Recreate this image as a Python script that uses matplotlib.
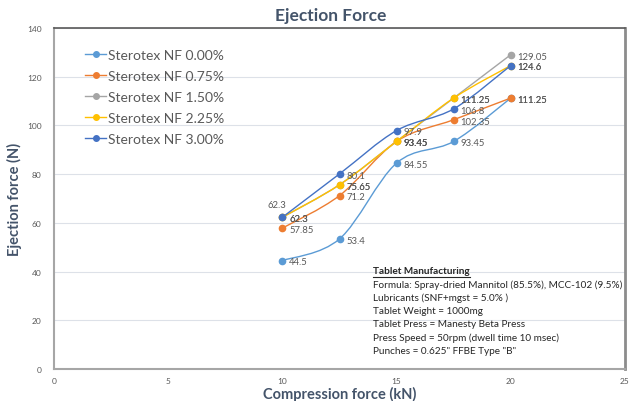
import numpy as np
import matplotlib
matplotlib.use("Agg")
import matplotlib.pyplot as plt
from matplotlib.path import Path
from matplotlib.patches import PathPatch
from matplotlib.lines import Line2D

plt.rcParams["font.family"] = ["Lato", "DejaVu Sans"]

# compression force (kN)
compression = [10, 12.5, 15, 17.5, 20]

series_names = [
    "Sterotex NF 0.00%",
    "Sterotex NF 0.75%",
    "Sterotex NF 1.50%",
    "Sterotex NF 2.25%",
    "Sterotex NF 3.00%",
]
nf_000 = [44.5, 53.4, 84.55, 93.45, 111.25]
nf_075 = [57.85, 71.2, 93.45, 102.35, 111.25]
nf_150 = [62.3, 75.65, 93.45, 111.25, 129.05]
nf_225 = [62.3, 75.65, 93.45, 111.25, 124.6]
nf_300 = [62.3, 80.1, 97.9, 106.8, 124.6]
series_values = [nf_000, nf_075, nf_150, nf_225, nf_300]
colors = ["#5B9BD5", "#ED7D31", "#A5A5A5", "#FFC000", "#4472C4"]

y_ticks = [0, 20, 40, 60, 80, 100, 120, 140]
x_ticks = [0, 5, 10, 15, 20, 25]

notes_title = "Tablet Manufacturing"
notes = [
    "Formula: Spray-dried Mannitol (85.5%), MCC-102 (9.5%)",
    "Lubricants (SNF+mgst = 5.0% )",
    "Tablet Weight = 1000mg",
    "Tablet Press = Manesty Beta Press",
    "Press Speed = 50rpm (dwell time 10 msec)",
    "Punches = 0.625\" FFBE Type \"B\"",
]

TXT = "#44546A"
LBL = "#595959"


def smooth_path(xs, ys):
    # excel-like smoothed line: cubic bezier through the points
    pts = np.column_stack([xs, ys]).astype(float)
    verts = [tuple(pts[0])]
    codes = [Path.MOVETO]
    n = len(pts)
    for i in range(n - 1):
        p0 = pts[i - 1] if i > 0 else pts[i]
        p1 = pts[i]
        p2 = pts[i + 1]
        p3 = pts[i + 2] if i + 2 < n else pts[i + 1]
        c1 = p1 + (p2 - p0) / 6.0
        c2 = p2 - (p3 - p1) / 6.0
        verts += [tuple(c1), tuple(c2), tuple(p2)]
        codes += [Path.CURVE4] * 3
    return Path(verts, codes)


fig = plt.figure(figsize=(6.4, 4.02), dpi=100)
ax = fig.add_axes([54 / 640, 32 / 402, 571 / 640, 341 / 402])

handles = []
for name, vals, col in zip(series_names, series_values, colors):
    ax.add_patch(PathPatch(smooth_path(compression, vals), facecolor="none",
                           edgecolor=col, lw=1.0, zorder=3))
    ax.plot(compression, vals, linestyle="none", marker="o", ms=4.5,
            color=col, zorder=4)
    handles.append(Line2D([], [], color=col, lw=1.0, marker="o", ms=4))

# data labels
lab_kw = dict(fontsize=6.8, color=LBL, va="center", ha="left", zorder=5)
for si, vals in enumerate(series_values):
    for xv, yv in zip(compression, vals):
        if si == 2 and xv == 10:
            ax.annotate(f"{yv:g}", (xv, yv), xytext=(-4, 9),
                        textcoords="offset points", fontsize=6.8, color=LBL,
                        ha="center", va="center")
            continue
        ax.annotate(f"{yv:g}", (xv, yv), xytext=(5, -1),
                    textcoords="offset points", **lab_kw)

ax.set_xlim(0, 25)
ax.set_ylim(0, 140)
ax.set_xticks(x_ticks)
ax.set_yticks(y_ticks)
ax.tick_params(length=0, labelsize=6, labelcolor=LBL)
ax.tick_params(axis="x", pad=6)
ax.tick_params(axis="y", pad=9)
ax.yaxis.grid(True, color="#DDE1E8", lw=0.8)
ax.set_axisbelow(True)

for side in ["left", "bottom"]:
    ax.spines[side].set_color("#A6A6A6")
    ax.spines[side].set_linewidth(1.5)
ax.spines["top"].set_color("#595959")
ax.spines["top"].set_linewidth(1.2)
ax.spines["right"].set_color("#8C8C8C")
ax.spines["right"].set_linewidth(2)

ax.set_xlabel("Compression force (kN)", fontsize=10.5, fontweight="bold",
              color=TXT, labelpad=1)
ax.set_ylabel("Ejection force (N)", fontsize=10.5, fontweight="bold",
              color=TXT, labelpad=0)
ax.yaxis.set_label_coords(-54 / 571 + 22 / 571, 0.5)
fig.text(331 / 640, 1 - 16 / 402, "Ejection Force", ha="center", va="center",
         fontsize=12.5, fontweight="bold", color=TXT)

leg = ax.legend(handles, series_names, loc="upper left",
                bbox_to_anchor=(0.033, 0.975), frameon=False, fontsize=10,
                labelcolor=LBL, handlelength=1.5, handletextpad=0.1,
                labelspacing=0.65)

# manufacturing notes
nx, ny = 373 / 640, 1 - 272 / 402
step = 13.2 / 402
t = fig.text(nx, ny, notes_title, fontsize=7.2, fontweight="bold",
             color="#262626", ha="left", va="center")
fig.canvas.draw()
bb = t.get_window_extent()
fig.add_artist(Line2D([bb.x0 / 640, bb.x1 / 640], [ny - 6 / 402, ny - 6 / 402],
                      color="#262626", lw=0.8))
for i, line in enumerate(notes):
    fig.text(nx, ny - (i + 1) * step, line, fontsize=7.2, color="#262626",
             ha="left", va="center")

fig.savefig("out.png", dpi=100)
